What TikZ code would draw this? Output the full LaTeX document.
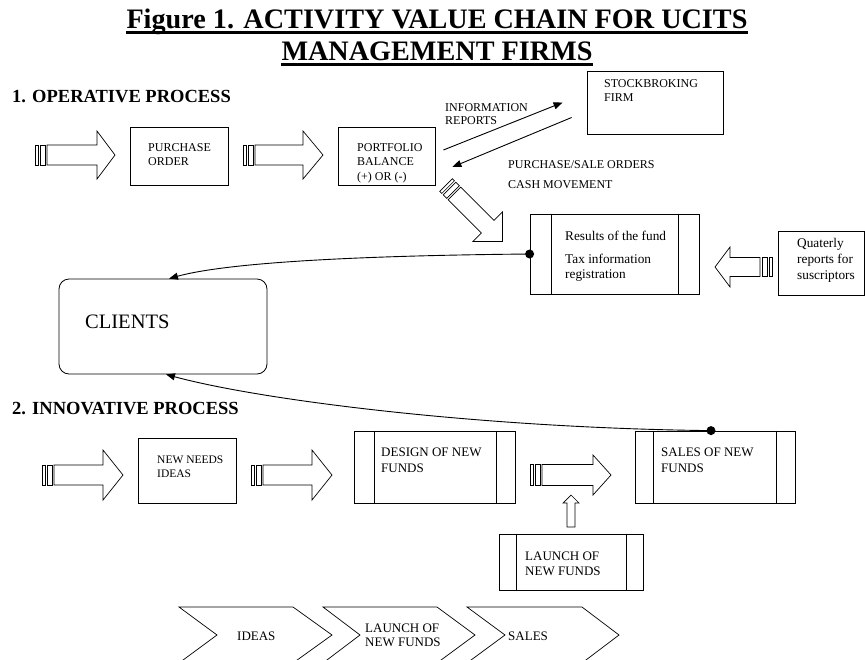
\documentclass[tikz,border=0pt]{standalone}
\usepackage{fontspec}
\setmainfont{Liberation Serif}
\usetikzlibrary{arrows.meta}
\newcommand\sarrow[7]{%
 \begin{scope}[shift={(#1,#2)},rotate=#3]
  \draw[blk] (0,-#7) rectangle (3,#7);
  \draw[blk] (5,-#7) rectangle (10,#7);
  \draw[blk] (12,-#7) -- ({#4-#5},-#7) -- ({#4-#5},-#6) -- (#4,0) -- ({#4-#5},#6) -- ({#4-#5},#7) -- (12,#7) -- cycle;
 \end{scope}}
\tikzset{
 blk/.style={draw, line width=0.7pt, fill=white},
 box/.style={draw, line width=0.8pt, inner sep=0, fill=white},
 captxt/.style={inner sep=0, align=left, anchor=base west, font=\fontsize{12}{14}\selectfont},
 mixtxt/.style={inner sep=0, align=left, anchor=base west, font=\fontsize{13.3}{16}\selectfont},
 ttl/.style={inner sep=0, anchor=base, font=\bfseries\fontsize{28.2}{30}\selectfont},
 hd/.style={inner sep=0, anchor=base west, font=\bfseries\fontsize{18.5}{20}\selectfont},
 con/.style={line width=0.9pt, -{Triangle[length=9pt,width=7pt]}},
 blob/.style={circle, fill=black, inner sep=0, minimum size=9pt},
 chev/.style={draw, line width=0.7pt}
}
\begin{document}
\begin{tikzpicture}[x=1pt,y=-1pt]
\useasboundingbox (0,0) rectangle (865,659);
\clip (0,0) rectangle (865,659);
% title
\node[ttl] (t1) at (437,28) {Figure 1. ACTIVITY VALUE CHAIN FOR UCITS};
\node[ttl] (t2) at (437,60) {MANAGEMENT FIRMS};
\draw[line width=2.4pt] ([yshift=-4.5pt]t1.base west) -- ([yshift=-4.5pt]t1.base east);
\draw[line width=2.4pt] ([yshift=-4.5pt]t2.base west) -- ([yshift=-4.5pt]t2.base east);
% headings
\node[hd] (h1) at (12,102) {1. OPERATIVE PROCESS};
\node[hd] (h2) at (12,414) {2. INNOVATIVE PROCESS};
% row 1 (multi-line text nodes are placed at the baseline of their last line)
\sarrow{35}{155}{0}{80}{18}{24}{10}
\node[box, minimum width=98, minimum height=58] (po) at (179,156) {};
\node[captxt] (pot) at (148,165) {PURCHASE\\ORDER};
\sarrow{243}{155}{0}{80}{20}{24}{10}
\node[box, minimum width=97, minimum height=58] (pb) at (386.5,156) {};
\node[captxt] (pbt) at (357,180) {PORTFOLIO\\BALANCE\\[1pt](+) OR (-)};
\node[box, minimum width=136, minimum height=63] (sb) at (655,102.5) {};
\node[captxt] (sbt) at (604,101) {STOCKBROKING\\FIRM};
\coordinate (i1) at ([shift={(8pt,6pt)}]pb.east);
\coordinate (i2) at ([shift={(-24pt,0pt)}]sb.west);
\coordinate (o1) at ([shift={(-15pt,-15pt)}]sb.west);
\coordinate (o2) at ([shift={(17pt,-11pt)}]pb.east);
\draw[con] (i1) -- (i2);
\draw[con] (o1) -- (o2);
\node[captxt, font=\fontsize{12}{13}\selectfont] (inf) at (445,124) {INFORMATION\\REPORTS};
\node[captxt] (pso) at (508,168) {PURCHASE/SALE ORDERS};
\node[captxt] (cash) at (508,188) {CASH MOVEMENT};
\sarrow{446}{185}{-45}{80}{21}{21}{9}
\node[box, minimum width=169, minimum height=80] (res) at (614.5,254) {};
\draw[line width=0.8pt] ([xshift=22pt]res.north west) -- ([xshift=22pt]res.south west);
\draw[line width=0.8pt] ([xshift=-21pt]res.north east) -- ([xshift=-21pt]res.south east);
\node[mixtxt, font=\fontsize{13.3}{15}\selectfont] (rest) at (565,278) {Results of the fund\\[8pt]Tax information\\registration};
\sarrow{772}{267}{180}{57}{15}{20}{9.5}
\node[box, minimum width=86, minimum height=64] (qr) at (821,263) {};
\node[mixtxt] (qrt) at (797,279) {Quaterly\\reports for\\suscriptors};
% clients
\node[box, rounded corners=10pt, minimum width=208, minimum height=95] (cl) at (163,326.5) {};
\node[inner sep=0, anchor=base west, font=\fontsize{20.5}{22}\selectfont] (clt) at (85,328) {CLIENTS};
\node[blob] (d1) at (res.west) {};
\draw[con] (d1.center) .. controls (420,255) and (240,259) .. ([xshift=6pt]cl.north);
% row 2
\sarrow{42}{475}{0}{81}{20}{25}{10}
\node[box, minimum width=98, minimum height=65] (nn) at (187,470.5) {};
\node[captxt, font=\fontsize{11.5}{14}\selectfont] (nnt) at (157,477) {NEW NEEDS\\IDEAS};
\sarrow{251}{475}{0}{81}{20}{25}{10}
\node[box, minimum width=161, minimum height=72] (ds) at (434.5,467) {};
\draw[line width=0.8pt] ([xshift=21pt]ds.north west) -- ([xshift=21pt]ds.south west);
\draw[line width=0.8pt] ([xshift=-19pt]ds.north east) -- ([xshift=-19pt]ds.south east);
\node[mixtxt, font=\fontsize{13}{16}\selectfont] (dst) at (381,472) {DESIGN OF NEW\\FUNDS};
\sarrow{530}{475}{0}{81}{18}{20}{10.5}
\node[box, minimum width=160, minimum height=72] (sa) at (715,467) {};
\draw[line width=0.8pt] ([xshift=19pt]sa.north west) -- ([xshift=19pt]sa.south west);
\draw[line width=0.8pt] ([xshift=-19pt]sa.north east) -- ([xshift=-19pt]sa.south east);
\node[mixtxt, font=\fontsize{13}{16}\selectfont] (sat) at (661,472) {SALES OF NEW\\FUNDS};
\node[blob] (d2) at ([xshift=-4pt]sa.north) {};
\draw[con] (d2.center) .. controls (480,428) and (260,400) .. ([xshift=3pt]cl.south);
\node[box, minimum width=144, minimum height=56] (la) at (571,562) {};
\draw[line width=0.8pt] ([xshift=18pt]la.north west) -- ([xshift=18pt]la.south west);
\draw[line width=0.8pt] ([xshift=-17pt]la.north east) -- ([xshift=-17pt]la.south east);
\node[mixtxt, font=\fontsize{13}{15}\selectfont] (lat) at (525,575) {LAUNCH OF\\NEW FUNDS};
\draw[blk] (567,527) -- (567,503) -- (563,503) -- (571,495) -- (579,503) -- (575,503) -- (575,527) -- cycle;
% chevrons
\draw[chev] (179,607) -- (293,607) -- (332,635) -- (293,663) -- (179,663) -- (217,635) -- cycle;
\draw[chev] (323,607) -- (437,607) -- (475,635) -- (437,663) -- (323,663) -- (360,635) -- cycle;
\draw[chev] (467,607) -- (582,607) -- (619,635) -- (582,663) -- (467,663) -- (505,635) -- cycle;
\node[mixtxt, font=\fontsize{13}{14}\selectfont] (c1) at (237,640) {IDEAS};
\node[mixtxt, font=\fontsize{13}{14}\selectfont] (c2) at (365,646) {LAUNCH OF\\NEW FUNDS};
\node[mixtxt, font=\fontsize{13}{14}\selectfont] (c3) at (508,640) {SALES};
\end{tikzpicture}
\end{document}
